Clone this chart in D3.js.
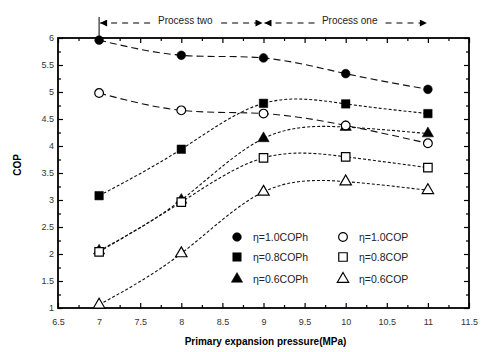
<!DOCTYPE html>
<html>
<head>
<meta charset="utf-8">
<script src="https://cdn.jsdelivr.net/npm/d3@7"></script>
<style>
  body { margin: 0; background: #fff; }
  svg { display: block; font-family: Arial, "Liberation Sans", sans-serif; }
</style>
</head>
<body>
<div id="chart"></div>
<script>
// data
const pressures = [7, 8, 9, 10, 11];
const copH10 = [5.96, 5.68, 5.63, 5.34, 5.05];
const copH08 = [3.08, 3.94, 4.79, 4.78, 4.60];
const copH06 = [2.06, 3.00, 4.14, 4.35, 4.23];
const cop10 = [4.98, 4.66, 4.60, 4.38, 4.05];
const cop08 = [2.04, 2.96, 3.78, 3.80, 3.60];
const cop06 = [1.06, 2.01, 3.15, 3.34, 3.18];

const xTickLabels = [6.5, 7, 7.5, 8, 8.5, 9, 9.5, 10, 10.5, 11, 11.5];
const yTickLabels = [1, 1.5, 2, 2.5, 3, 3.5, 4, 4.5, 5, 5.5, 6];

const processNames = ['Process two', 'Process one'];
const processBounds = [[7, 9], [9, 11]];

const series = [
  { name: 'η=1.0COPh', values: copH10, symbol: d3.symbolCircle, filled: true, dash: '7,4' },
  { name: 'η=0.8COPh', values: copH08, symbol: d3.symbolSquare, filled: true, dash: '3,2' },
  { name: 'η=0.6COPh', values: copH06, symbol: d3.symbolTriangle, filled: true, dash: '3,2' },
  { name: 'η=1.0COP', values: cop10, symbol: d3.symbolCircle, filled: false, dash: '7,4' },
  { name: 'η=0.8COP', values: cop08, symbol: d3.symbolSquare, filled: false, dash: '3,2' },
  { name: 'η=0.6COP', values: cop06, symbol: d3.symbolTriangle, filled: false, dash: '3,2' }
];

const W = 483, H = 352;
const plot = { left: 58, right: 469, top: 38, bottom: 308 };

const svg = d3.select('#chart').append('svg')
  .attr('width', W).attr('height', H);

const x = d3.scaleLinear().domain([6.5, 11.5]).range([plot.left, plot.right]);
const y = d3.scaleLinear().domain([1, 6]).range([plot.bottom, plot.top]);

const minorX = d3.range(6.5, 11.51, 0.25);
const minorY = d3.range(1, 6.01, 0.25);
const isMajor = v => Math.abs(v * 2 - Math.round(v * 2)) < 1e-6;

// inward ticks on all four sides
const tickLen = v => isMajor(v) ? 5 : 3;
svg.append('g')
  .attr('transform', `translate(0,${plot.bottom})`)
  .call(d3.axisBottom(x).tickValues(minorX).tickSize(0).tickFormat(''))
  .call(g => g.select('.domain').remove())
  .call(g => g.selectAll('.tick line').attr('y2', d => -tickLen(d)).attr('stroke', '#000').attr('stroke-width', 1.2));
svg.append('g')
  .attr('transform', `translate(0,${plot.top})`)
  .call(d3.axisTop(x).tickValues(minorX).tickSize(0).tickFormat(''))
  .call(g => g.select('.domain').remove())
  .call(g => g.selectAll('.tick line').attr('y2', d => tickLen(d)).attr('stroke', '#000').attr('stroke-width', 1.2));
svg.append('g')
  .attr('transform', `translate(${plot.left},0)`)
  .call(d3.axisLeft(y).tickValues(minorY).tickSize(0).tickFormat(''))
  .call(g => g.select('.domain').remove())
  .call(g => g.selectAll('.tick line').attr('x2', d => tickLen(d)).attr('stroke', '#000').attr('stroke-width', 1.2));
svg.append('g')
  .attr('transform', `translate(${plot.right},0)`)
  .call(d3.axisRight(y).tickValues(minorY).tickSize(0).tickFormat(''))
  .call(g => g.select('.domain').remove())
  .call(g => g.selectAll('.tick line').attr('x2', d => -tickLen(d)).attr('stroke', '#000').attr('stroke-width', 1.2));

// tick labels
svg.append('g')
  .attr('transform', `translate(0,${plot.bottom})`)
  .call(d3.axisBottom(x).tickValues(xTickLabels).tickSize(0).tickPadding(11).tickFormat(d3.format('')))
  .call(g => g.select('.domain').remove())
  .call(g => g.selectAll('text').attr('fill', '#333').style('font-size', '9px'));
svg.append('g')
  .attr('transform', `translate(${plot.left},0)`)
  .call(d3.axisLeft(y).tickValues(yTickLabels).tickSize(0).tickPadding(4).tickFormat(d3.format('')))
  .call(g => g.select('.domain').remove())
  .call(g => g.selectAll('text').attr('fill', '#333').style('font-size', '9px'));

// frame
svg.append('rect')
  .attr('x', plot.left).attr('y', plot.top)
  .attr('width', plot.right - plot.left).attr('height', plot.bottom - plot.top)
  .attr('fill', 'none').attr('stroke', '#000').attr('stroke-width', 1.8);

// axis titles
svg.append('text')
  .attr('x', (plot.left + plot.right) / 2 + 2).attr('y', 345)
  .attr('text-anchor', 'middle')
  .style('font-size', '10px').style('font-weight', 'bold')
  .text('Primary expansion pressure(MPa)');
svg.append('text')
  .attr('transform', `translate(21,${(plot.top + plot.bottom) / 2 - 8}) rotate(-90)`)
  .attr('text-anchor', 'middle')
  .style('font-size', '10px').style('font-weight', 'bold')
  .text('COP');

// fitted curves
const line = d3.line()
  .x((d, i) => x(pressures[i]))
  .y(d => y(d))
  .curve(d3.curveNatural);

svg.append('g').selectAll('path')
  .data(series)
  .join('path')
    .attr('fill', 'none')
    .attr('stroke', '#111')
    .attr('stroke-width', 1.1)
    .attr('stroke-dasharray', d => d.dash)
    .attr('d', d => line(d.values));

// markers
const symSize = s => s === d3.symbolCircle ? 60 : s === d3.symbolSquare ? 72 : 56;
series.forEach(s => {
  svg.append('g').selectAll('path')
    .data(s.values)
    .join('path')
      .attr('transform', (d, i) => `translate(${x(pressures[i])},${y(d)})`)
      .attr('d', d3.symbol().type(s.symbol).size(symSize(s.symbol)))
      .attr('fill', s.filled ? '#000' : '#fff')
      .attr('stroke', '#000')
      .attr('stroke-width', s.filled ? 0.5 : 1.2);
});

// legend
const legend = svg.append('g');
const legendRows = [237, 257, 279];
const legendCols = [237, 343];
series.forEach((s, i) => {
  const col = Math.floor(i / 3), row = i % 3;
  const g = legend.append('g').attr('transform', `translate(${legendCols[col]},${legendRows[row]})`);
  g.append('path')
    .attr('d', d3.symbol().type(s.symbol).size(symSize(s.symbol)))
    .attr('fill', s.filled ? '#000' : '#fff')
    .attr('stroke', '#000')
    .attr('stroke-width', s.filled ? 0.5 : 1.2);
  g.append('text')
    .attr('x', 16).attr('dy', '0.35em')
    .style('font-size', '10.5px')
    .attr('fill', '#222')
    .text(s.name);
});

// process annotation above the plot
const defs = svg.append('defs');
defs.append('marker')
  .attr('id', 'arrow')
  .attr('viewBox', '0 0 10 10')
  .attr('refX', 10).attr('refY', 5)
  .attr('markerWidth', 9).attr('markerHeight', 7)
  .attr('markerUnits', 'userSpaceOnUse')
  .attr('orient', 'auto-start-reverse')
  .append('path').attr('d', 'M0,0L10,5L0,10z').attr('fill', '#000');

const annY = 23;
svg.append('line')
  .attr('x1', x(processBounds[0][0])).attr('x2', x(processBounds[0][0]))
  .attr('y1', 17).attr('y2', plot.top)
  .attr('stroke', '#000').attr('stroke-width', 1);

const ann = svg.append('g');
processNames.forEach((name, i) => {
  const [a, b] = processBounds[i];
  ann.append('line')
    .attr('x1', x(a) + 1).attr('x2', x(b) - 1)
    .attr('y1', annY).attr('y2', annY)
    .attr('stroke', '#000').attr('stroke-width', 1.2)
    .attr('stroke-dasharray', '6,5')
    .attr('marker-start', 'url(#arrow)')
    .attr('marker-end', 'url(#arrow)');
  const cx = (x(a) + x(b)) / 2 + 4;
  const t = ann.append('text')
    .attr('x', cx).attr('y', annY + 1)
    .attr('text-anchor', 'middle')
    .style('font-size', '10px')
    .attr('fill', '#222')
    .text(name);
  const bb = t.node().getBBox();
  ann.append('rect')
    .attr('x', bb.x - 6).attr('y', annY - 2)
    .attr('width', bb.width + 12).attr('height', 4)
    .attr('fill', '#fff');
  t.raise();
});
</script>
</body>
</html>
